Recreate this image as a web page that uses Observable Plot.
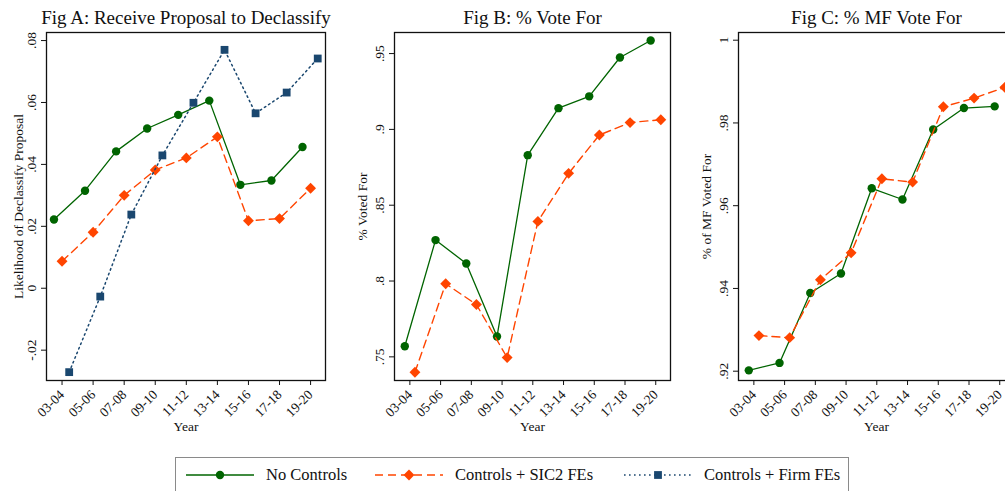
<!DOCTYPE html>
<html><head><meta charset="utf-8">
<script src="https://cdn.jsdelivr.net/npm/d3@7"></script>
<script src="https://cdn.jsdelivr.net/npm/@observablehq/plot@0.6"></script>
<style>
html,body{margin:0;padding:0;background:#fff;overflow:hidden;}
#wrap{position:relative;width:1005px;height:491px;overflow:hidden;font-family:"Liberation Serif","Times New Roman",serif;}
.panel{position:absolute;top:0;}
.panel svg{max-width:none !important;font-family:"Liberation Serif","Times New Roman",serif !important;}
.panel svg text{font-family:"Liberation Serif","Times New Roman",serif !important;}
#legend{position:absolute;left:175px;top:457px;width:674px;height:36px;border:1px solid #8a8a8a;box-sizing:border-box;font-size:16.5px;color:#111;font-family:"Liberation Serif","Times New Roman",serif;}
.item{position:absolute;top:0;height:34px;display:flex;align-items:center;}
.item svg{margin-right:12px;}
</style></head><body><div id="wrap"><div id="legend"></div></div>
<script>
// ---- data ----
const periods = ["03-04","05-06","07-08","09-10","11-12","13-14","15-16","17-18","19-20"];
const seriesNames = ["No Controls", "Controls + SIC2 FEs", "Controls + Firm FEs"];

const figA_noControls = [0.0222, 0.0315, 0.0442, 0.0516, 0.0560, 0.0606, 0.0334, 0.0348, 0.0456];
const figA_sic2       = [0.0087, 0.0181, 0.0300, 0.0382, 0.0421, 0.0489, 0.0218, 0.0225, 0.0323];
const figA_firm       = [-0.0271, -0.0027, 0.0238, 0.0429, 0.0599, 0.0770, 0.0565, 0.0632, 0.0742];

const figB_noControls = [0.757, 0.827, 0.8116, 0.7634, 0.883, 0.914, 0.9218, 0.9474, 0.9586];
const figB_sic2       = [0.7398, 0.7982, 0.7845, 0.7495, 0.8393, 0.871, 0.8963, 0.9045, 0.9064];

const figC_noControls = [0.9202, 0.9220, 0.9389, 0.9436, 0.9642, 0.9615, 0.9784, 0.9836, 0.9840];
const figC_sic2       = [0.9286, 0.9281, 0.9421, 0.9486, 0.9665, 0.9657, 0.9839, 0.9860, 0.9886];

const figA_yTicks = [-0.02, 0, 0.02, 0.04, 0.06, 0.08];
const figA_yTickLabels = ["-.02", "0", ".02", ".04", ".06", ".08"];
const figB_yTicks = [0.75, 0.8, 0.85, 0.9, 0.95];
const figB_yTickLabels = [".75", ".8", ".85", ".9", ".95"];
const figC_yTicks = [0.92, 0.94, 0.96, 0.98, 1];
const figC_yTickLabels = [".92", ".94", ".96", ".98", "1"];

// ---- styles ----
const styles = [
  {color: "#006400", symbol: "circle", r: 4.2, sw: 1.3, dash: null},
  {color: "#ff4500", symbol: "diamond2", r: 4.9, sw: 1.4, dash: "8,5"},
  {color: "#1a476f", symbol: "square", r: 4.4, sw: 1.5, dash: "1.6,3.4"}
];

function panel(opts) {
  const {title, ylabel, series, yDomain, yTicks, yTickLabels, left, width, marginLeft, marginRight, ylabelDx} = opts;
  const marks = [];
  series.forEach(s => {
    const st = styles[s.style];
    const d = s.values.map((v, i) => ({x: i + s.offset, y: v}));
    marks.push(Plot.line(d, {x: "x", y: "y", stroke: st.color, strokeWidth: st.sw, strokeDasharray: st.dash}));
    marks.push(Plot.dot(d, {x: "x", y: "y", symbol: st.symbol, r: st.r, fill: st.color, stroke: "none"}));
  });
  marks.push(Plot.frame({stroke: "#111", strokeWidth: 1.3}));
  marks.push(Plot.axisX({ticks: d3.range(periods.length), tickFormat: i => periods[i], tickRotate: -45, tickSize: 5, label: null, stroke: "#111", fontSize: 13.5}));
  marks.push(Plot.axisY({ticks: yTicks, tickFormat: d => yTickLabels[yTicks.indexOf(d)], tickRotate: -90, tickSize: 5, tickPadding: 6, label: null, stroke: "#111", fontSize: 13.5}));
  marks.push(Plot.text([title], {frameAnchor: "top", dy: -15, fontSize: 19, lineAnchor: "middle", textAnchor: "middle"}));
  marks.push(Plot.text(["Year"], {frameAnchor: "bottom", dy: 46, fontSize: 13.5, lineAnchor: "middle", textAnchor: "middle"}));
  marks.push(Plot.text([ylabel], {frameAnchor: "left", dx: ylabelDx, rotate: -90, fontSize: 13.5, lineAnchor: "middle", textAnchor: "middle"}));
  const svg = Plot.plot({
    width, height: 440,
    marginLeft, marginRight, marginTop: 32, marginBottom: 60,
    x: {domain: [-0.5, 8.48], axis: null},
    y: {domain: yDomain, axis: null},
    style: {fontSize: "13px", color: "#111", background: "transparent", maxWidth: "none"},
    marks
  });
  svg.style.maxWidth = "none";
  const div = document.createElement("div");
  div.className = "panel";
  div.style.left = left + "px";
  div.style.width = width + "px";
  div.appendChild(svg);
  document.getElementById("wrap").appendChild(div);
}

panel({
  title: "Fig A: Receive Proposal to Declassify",
  ylabel: "Likelihood of Declassify Proposal",
  series: [
    {values: figA_noControls, style: 0, offset: -0.26},
    {values: figA_sic2, style: 1, offset: 0},
    {values: figA_firm, style: 2, offset: 0.23}
  ],
  yDomain: [-0.0298, 0.0826], yTicks: figA_yTicks, yTickLabels: figA_yTickLabels,
  left: 0, width: 340, marginLeft: 46, marginRight: 15, ylabelDx: -28
});
panel({
  title: "Fig B: % Vote For",
  ylabel: "% Voted For",
  series: [
    {values: figB_noControls, style: 0, offset: -0.165},
    {values: figB_sic2, style: 1, offset: 0.165}
  ],
  yDomain: [0.7344, 0.9639], yTicks: figB_yTicks, yTickLabels: figB_yTickLabels,
  left: 340, width: 340, marginLeft: 54, marginRight: 10, ylabelDx: -32
});
panel({
  title: "Fig C: % MF Vote For",
  ylabel: "% of MF Voted For",
  series: [
    {values: figC_noControls, style: 0, offset: -0.165},
    {values: figC_sic2, style: 1, offset: 0.165}
  ],
  yDomain: [0.91775, 1.00186], yTicks: figC_yTicks, yTickLabels: figC_yTickLabels,
  left: 680, width: 345, marginLeft: 58, marginRight: 11, ylabelDx: -32
});

// ---- legend ----
const legendPos = [10, 199, 448];
const legend = document.getElementById("legend");
seriesNames.forEach((name, k) => {
  const st = styles[k];
  const item = document.createElement("div");
  item.className = "item";
  item.style.left = legendPos[k] + "px";
  const ns = "http://www.w3.org/2000/svg";
  const s = document.createElementNS(ns, "svg");
  s.setAttribute("width", 68); s.setAttribute("height", 14);
  const ln = document.createElementNS(ns, "line");
  ln.setAttribute("x1", 0); ln.setAttribute("x2", 68); ln.setAttribute("y1", 7); ln.setAttribute("y2", 7);
  ln.setAttribute("stroke", st.color); ln.setAttribute("stroke-width", st.sw);
  if (st.dash) ln.setAttribute("stroke-dasharray", st.dash);
  s.appendChild(ln);
  const p = document.createElementNS(ns, "path");
  const sym = {circle: d3.symbolCircle, diamond2: d3.symbolDiamond2, square: d3.symbolSquare}[st.symbol];
  p.setAttribute("d", d3.symbol(sym, st.r * st.r * Math.PI)());
  p.setAttribute("transform", "translate(34,7)");
  p.setAttribute("fill", st.color);
  s.appendChild(p);
  item.appendChild(s);
  const t = document.createElement("span");
  t.textContent = name;
  item.appendChild(t);
  legend.appendChild(item);
});
</script></body></html>
